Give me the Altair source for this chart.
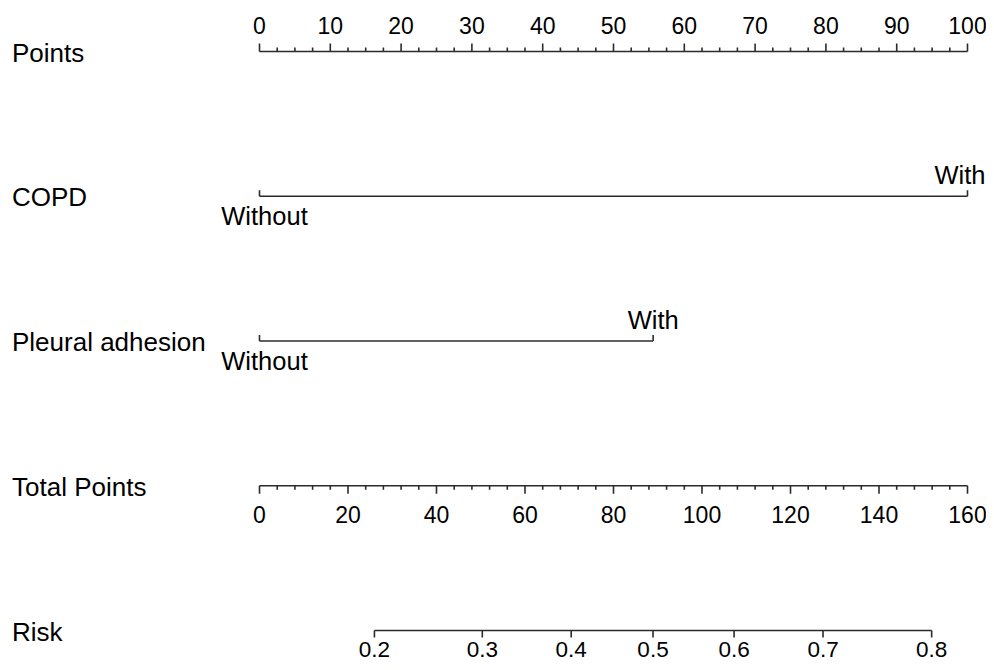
import altair as alt
import pandas as pd

# ---------------- data ----------------
row_names = ["Points", "COPD", "Pleural adhesion", "Total Points", "Risk"]

points_major = [0, 10, 20, 30, 40, 50, 60, 70, 80, 90, 100]
points_minor_step = 2.5

total_major = [0, 20, 40, 60, 80, 100, 120, 140, 160]
total_minor_step = 4
total_max = 160

copd_levels = ["Without", "With"]
copd_points = [0, 100]

pleural_levels = ["Without", "With"]
pleural_points = [0, 55.6]

risk_labels = ["0.2", "0.3", "0.4", "0.5", "0.6", "0.7", "0.8"]
risk_total_points = [25.97, 50.35, 70.44, 88.93, 107.25, 127.35, 151.9]

# ---------------- layout / style ----------------
FONT = "Liberation Sans"
LINE = "#2b2b2b"
SW = 1.6
W, H = 978, 654

xs = alt.Scale(domain=[0, 100], range=[251.5, 959.5], nice=False, zero=False)
ys = alt.Scale(domain=[0, 4], range=[43.5, 622.5], nice=False, zero=False)

def X(f="x"):
    return alt.X(f"{f}:Q", scale=xs, axis=None)

def Y(f="row"):
    return alt.Y(f"{f}:Q", scale=ys, axis=None)

def tp_to_pts(v):
    return v * 100.0 / total_max

# ---------------- tables ----------------
lines = pd.DataFrame({
    "row": [0, 1, 2, 3, 4],
    "x": [0, copd_points[0], pleural_points[0], 0, tp_to_pts(risk_total_points[0])],
    "x2": [100, copd_points[1], pleural_points[1], tp_to_pts(total_max),
           tp_to_pts(risk_total_points[-1])],
})

n_minor_pts = int(round(100 / points_minor_step))
pts_minor = [i * points_minor_step for i in range(n_minor_pts + 1)]
pts_minor = [v for v in pts_minor if v not in points_major]
n_minor_tot = int(round(total_max / total_minor_step))
tot_minor = [i * total_minor_step for i in range(n_minor_tot + 1)]
tot_minor = [v for v in tot_minor if v not in total_major]

up_major = pd.DataFrame({"x": points_major, "row": 0})
up_minor = pd.DataFrame({"x": pts_minor, "row": 0})
up_ends = pd.DataFrame({
    "x": copd_points + pleural_points,
    "row": [1, 1, 2, 2],
})
down_major = pd.DataFrame({"x": [tp_to_pts(v) for v in total_major], "row": 3})
down_risk = pd.DataFrame({"x": [tp_to_pts(v) for v in risk_total_points], "row": 4})
down_minor = pd.DataFrame({"x": [tp_to_pts(v) for v in tot_minor], "row": 3})

pts_labels = pd.DataFrame({"x": points_major, "row": 0,
                           "label": [str(v) for v in points_major]})
tot_labels = pd.DataFrame({"x": [tp_to_pts(v) for v in total_major], "row": 3,
                           "label": [str(v) for v in total_major]})
rsk_labels = pd.DataFrame({"x": [tp_to_pts(v) for v in risk_total_points], "row": 4,
                           "label": risk_labels})

lvl_above = pd.DataFrame({"x": [copd_points[1], pleural_points[1]], "row": [1, 2],
                          "label": [copd_levels[1], pleural_levels[1]]})
lvl_below = pd.DataFrame({"x": [copd_points[0], pleural_points[0]], "row": [1, 2],
                          "label": [copd_levels[0], pleural_levels[0]]})

row_lab = pd.DataFrame({"row": [0, 1, 2, 3, 4], "label": row_names})

# ---------------- marks ----------------
l_lines = alt.Chart(lines).mark_rule(color=LINE, strokeWidth=SW).encode(
    x=X(), x2="x2:Q", y=Y())

def ticks(df, off):
    return alt.Chart(df).mark_rule(color=LINE, strokeWidth=SW, y2Offset=off).encode(
        x=X(), y=Y(), y2="row:Q")

l_up_major = ticks(up_major, -8)
l_up_minor = ticks(up_minor, -4)
l_up_ends = ticks(up_ends, -6)
l_down_major = ticks(down_major, 8)
l_down_risk = ticks(down_risk, 7)
l_down_minor = ticks(down_minor, 4)

def txt(df, dy, size, align="center", baseline="alphabetic", dx=0):
    return alt.Chart(df).mark_text(font=FONT, fontSize=size, color="black", dy=dy, dx=dx,
                                   align=align, baseline=baseline).encode(
        x=X(), y=Y(), text="label:N")

l_pts_lab = txt(pts_labels, -18, 23)
l_tot_lab = txt(tot_labels, 37, 23)
l_rsk_lab = txt(rsk_labels, 26, 22.5)
l_above_copd = txt(lvl_above.iloc[[0]], -12, 25.5, align="right", dx=18)
l_above_pl = txt(lvl_above.iloc[[1]], -12, 25.5)
l_below = txt(lvl_below, 29, 25.5, dx=5)

l_rows = alt.Chart(row_lab).mark_text(font=FONT, fontSize=26, color="black",
                                      align="left", baseline="middle", dy=2).encode(
    x=alt.value(4), y=Y(), text="label:N")

chart = alt.layer(
    l_lines, l_up_major, l_up_minor, l_up_ends, l_down_major, l_down_risk, l_down_minor,
    l_pts_lab, l_tot_lab, l_rsk_lab, l_above_copd, l_above_pl, l_below, l_rows,
).properties(
    width=W, height=H, padding=0, autosize=alt.AutoSizeParams(type="none"),
    background="white",
).configure_view(stroke=None)

chart.save("out.html", embed_options={"renderer": "svg", "actions": False})
